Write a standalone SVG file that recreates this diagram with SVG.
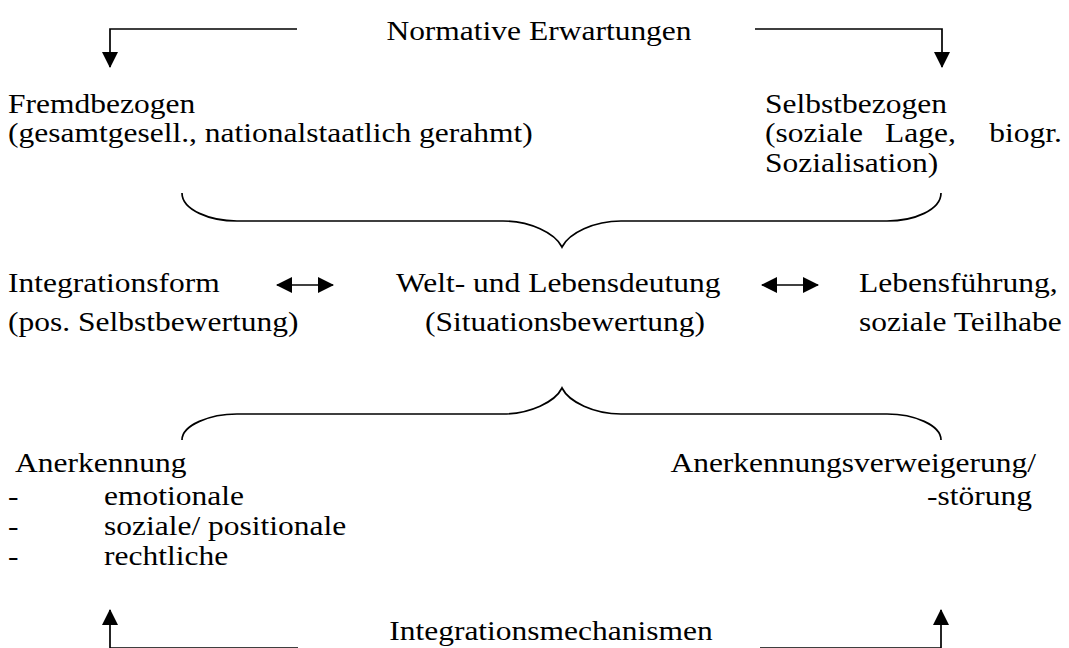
<svg xmlns="http://www.w3.org/2000/svg" width="1069" height="648" viewBox="0 0 1069 648">
<style>
text{font-family:"Liberation Serif","Times New Roman",serif;font-size:28px;fill:#000}
.ln{fill:none;stroke:#000;stroke-width:1.7}
.st{transform:scale(1.125,1)}
</style>
<defs>
<marker id="ah" viewBox="0 0 16 16" refX="15" refY="8" markerWidth="16" markerHeight="16" markerUnits="userSpaceOnUse" orient="auto-start-reverse">
<path d="M0,0 L16,8 L0,16 Z" fill="#000"/>
</marker>
</defs>
<rect width="1069" height="648" fill="#fff"/>
<g id="connectors">
<path class="ln" d="M297,29 H110 V67" marker-end="url(#ah)"/>
<path class="ln" d="M755,29 H942 V67" marker-end="url(#ah)"/>
<path class="ln" d="M298,648 H110 V610" marker-end="url(#ah)"/>
<path class="ln" d="M760,648 H941 V610" marker-end="url(#ah)"/>
<path class="ln" d="M277,285 H333" marker-start="url(#ah)" marker-end="url(#ah)"/>
<path class="ln" d="M762,285 H818" marker-start="url(#ah)" marker-end="url(#ah)"/>
<path class="ln" d="M182,193 C182,210 210,221 237,221 L503,221 C530,221 555,233 562,247 C569,233 594,221 621,221 L887,221 C914,221 941,210 941,193"/>
<path class="ln" d="M182,440 C182,425 210,414 237,414 L503,414 C530,414 555,402 562,388 C569,402 594,414 621,414 L887,414 C914,414 941,425 941,440"/>
</g>
<g id="n-normative" class="st"><text x="479.11" y="40" text-anchor="middle">Normative Erwartungen</text></g>
<g id="n-fremd" class="st">
<text x="7.11" y="113">Fremdbezogen</text>
<text x="7.11" y="142">(gesamtgesell., nationalstaatlich gerahmt)</text>
</g>
<g id="n-selbst" class="st">
<text x="680" y="113">Selbstbezogen</text>
<text y="142"><tspan x="680">(soziale</tspan><tspan x="786.67">Lage,</tspan><tspan x="944" text-anchor="end">biogr.</tspan></text>
<text x="680" y="172">Sozialisation)</text>
</g>
<g id="n-integrationsform" class="st">
<text x="7.11" y="292">Integrationsform</text>
<text x="7.11" y="331">(pos. Selbstbewertung)</text>
</g>
<g id="n-welt" class="st">
<text x="352" y="292">Welt- und Lebensdeutung</text>
<text x="377.78" y="331">(Situationsbewertung)</text>
</g>
<g id="n-lebens" class="st">
<text x="763.56" y="292">Lebensführung,</text>
<text x="763.56" y="331">soziale Teilhabe</text>
</g>
<g id="n-anerkennung" class="st">
<text x="13.33" y="472">Anerkennung</text>
<text x="7.11" y="505">-</text><text x="92.44" y="505">emotionale</text>
<text x="7.11" y="535">-</text><text x="92.44" y="535">soziale/ positionale</text>
<text x="7.11" y="565">-</text><text x="92.44" y="565">rechtliche</text>
</g>
<g id="n-verweigerung" class="st">
<text x="920.89" y="472" text-anchor="end">Anerkennungsverweigerung/</text>
<text x="917.33" y="505" text-anchor="end">-störung</text>
</g>
<g id="n-mechanismen" class="st"><text x="489.78" y="640" text-anchor="middle">Integrationsmechanismen</text></g>
</svg>
